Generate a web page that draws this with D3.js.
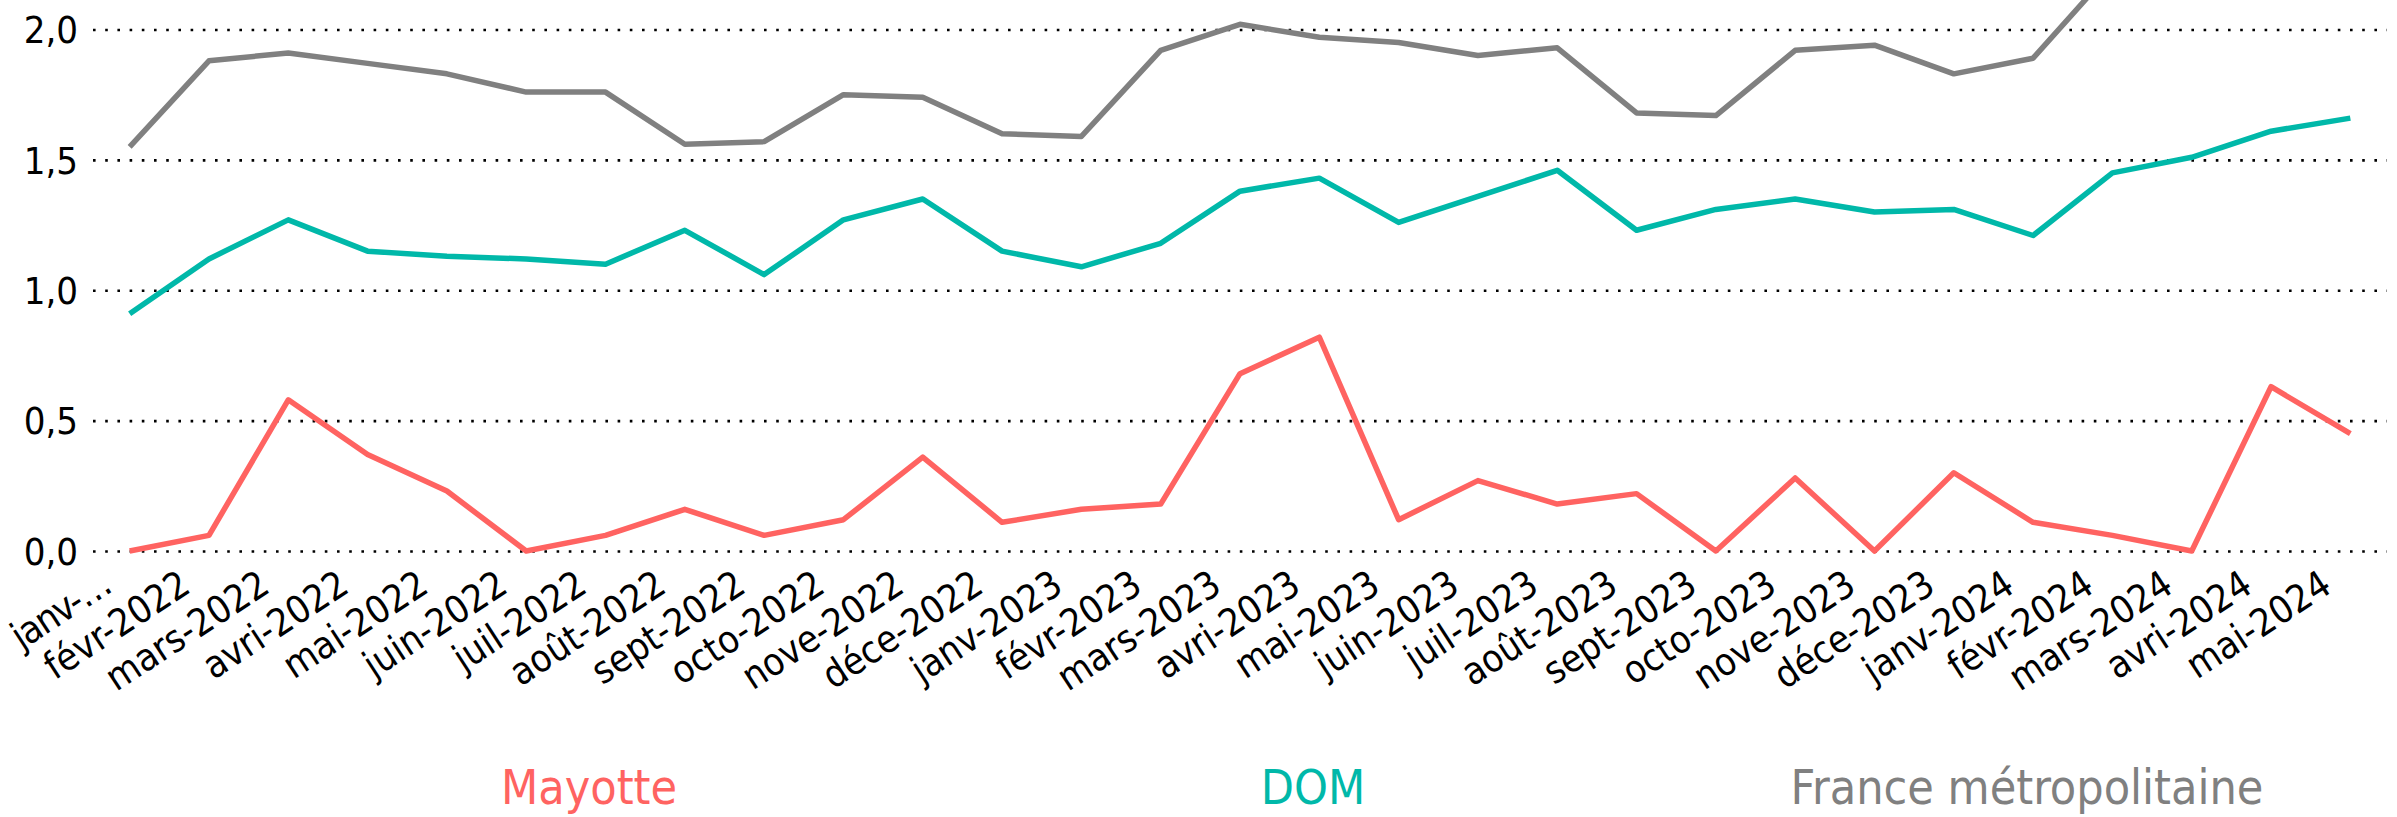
<!DOCTYPE html>
<html lang="fr">
<head>
<meta charset="UTF-8">
<title>Mayotte / DOM / France métropolitaine</title>
<script src="https://cdn.jsdelivr.net/npm/d3@7"></script>
<style>
    html, body { margin: 0; padding: 0; background: #fff; }
    #chart { width: 2397px; height: 817px; }
    text { font-family: "DejaVu Sans Condensed", "DejaVu Sans", sans-serif; }
</style>
</head>
<body>
<div id="chart"></div>
<script>
// mois affichés sous l'axe (le premier est tronqué dans l'original)
const months = ["janv-…", "févr-2022", "mars-2022", "avri-2022", "mai-2022", "juin-2022",
    "juil-2022", "août-2022", "sept-2022", "octo-2022", "nove-2022", "déce-2022",
    "janv-2023", "févr-2023", "mars-2023", "avri-2023", "mai-2023", "juin-2023",
    "juil-2023", "août-2023", "sept-2023", "octo-2023", "nove-2023", "déce-2023",
    "janv-2024", "févr-2024", "mars-2024", "avri-2024", "mai-2024"];

const mayotte = [0.00, 0.06, 0.58, 0.37, 0.23, 0.00, 0.06, 0.16, 0.06, 0.12, 0.36, 0.11,
    0.16, 0.18, 0.68, 0.82, 0.12, 0.27, 0.18, 0.22, 0.00, 0.28, 0.00, 0.30,
    0.11, 0.06, 0.00, 0.63, 0.45];

const dom = [0.91, 1.12, 1.27, 1.15, 1.13, 1.12, 1.10, 1.23, 1.06, 1.27, 1.35, 1.15,
    1.09, 1.18, 1.38, 1.43, 1.26, 1.36, 1.46, 1.23, 1.31, 1.35, 1.30, 1.31,
    1.21, 1.45, 1.51, 1.61, 1.66];

// les derniers points sortent du cadre en haut
const metro = [1.55, 1.88, 1.91, 1.87, 1.83, 1.76, 1.76, 1.56, 1.57, 1.75, 1.74, 1.60,
    1.59, 1.92, 2.02, 1.97, 1.95, 1.90, 1.93, 1.68, 1.67, 1.92, 1.94, 1.83,
    1.89, 2.23, 2.30, 2.35, 2.38];

const yTicks = [0, 0.5, 1, 1.5, 2];

const series = [
    { name: "Mayotte", values: mayotte, color: "#ff6361" },
    { name: "DOM", values: dom, color: "#00b8a9" },
    { name: "France métropolitaine", values: metro, color: "#808080" }
];

let svg = d3.select("#chart").append("svg")
    .attr("width", 2397)
    .attr("height", 817);

// bords de la zone de tracé
let plot = { left: 90, right: 2390, top: 29.5, bottom: 551 };

let x = d3.scalePoint()
    .domain(months)
    .range([plot.left, plot.right])
    .padding(0.5);

let y = d3.scaleLinear()
    .domain([0, 2])
    .range([plot.bottom, plot.top]);

// grille pointillée + étiquettes de l'axe y
let yAxis = d3.axisLeft(y)
    .tickValues(yTicks)
    .tickSize(-(plot.right - plot.left - 6))
    .tickPadding(15)
    .tickFormat(d => d3.format(".1f")(d).replace(".", ","));

let gy = svg.append("g")
    .attr("transform", "translate(" + (plot.left + 3) + ",0)")
    .call(yAxis);
gy.select(".domain").remove();
gy.selectAll(".tick line")
    .attr("stroke", "#000")
    .attr("stroke-width", 2.6)
    .attr("stroke-dasharray", "2.6 9.6");
gy.selectAll(".tick text")
    .attr("fill", "#000")
    .attr("font-size", 38)
    .attr("x", -15)
    .attr("dy", "0.35em");

// étiquettes des mois, inclinées
let xAxis = d3.axisBottom(x).tickSize(0).tickPadding(0);
let gx = svg.append("g")
    .attr("transform", "translate(0," + plot.bottom + ")")
    .call(xAxis);
gx.select(".domain").remove();
gx.selectAll(".tick text")
    .attr("fill", "#000")
    .attr("font-size", 38)
    .attr("text-anchor", "end")
    .attr("dy", 0)
    .attr("y", 0)
    .attr("transform", "translate(-17,40) rotate(-33)");
// le premier libellé, tronqué, est plus serré pour rester dans le cadre
gx.selectAll(".tick text")
    .filter((d, i) => i === 0)
    .attr("letter-spacing", -1.5);

// courbes
let line = d3.line()
    .x((d, i) => x(months[i]))
    .y(d => y(d));

svg.append("g")
    .selectAll("path")
    .data(series.slice().reverse())
    .enter()
    .append("path")
    .attr("d", d => line(d.values))
    .attr("fill", "none")
    .attr("stroke", d => d.color)
    .attr("stroke-width", 5.5)
    .attr("stroke-linejoin", "round");

// légende
let legendX = [589, 1313, 2027];
svg.append("g")
    .selectAll("text")
    .data(series)
    .enter()
    .append("text")
    .attr("x", (d, i) => legendX[i])
    .attr("y", 804)
    .attr("text-anchor", "middle")
    .attr("font-size", 48)
    .attr("fill", d => d.color)
    .text(d => d.name);
</script>
</body>
</html>
